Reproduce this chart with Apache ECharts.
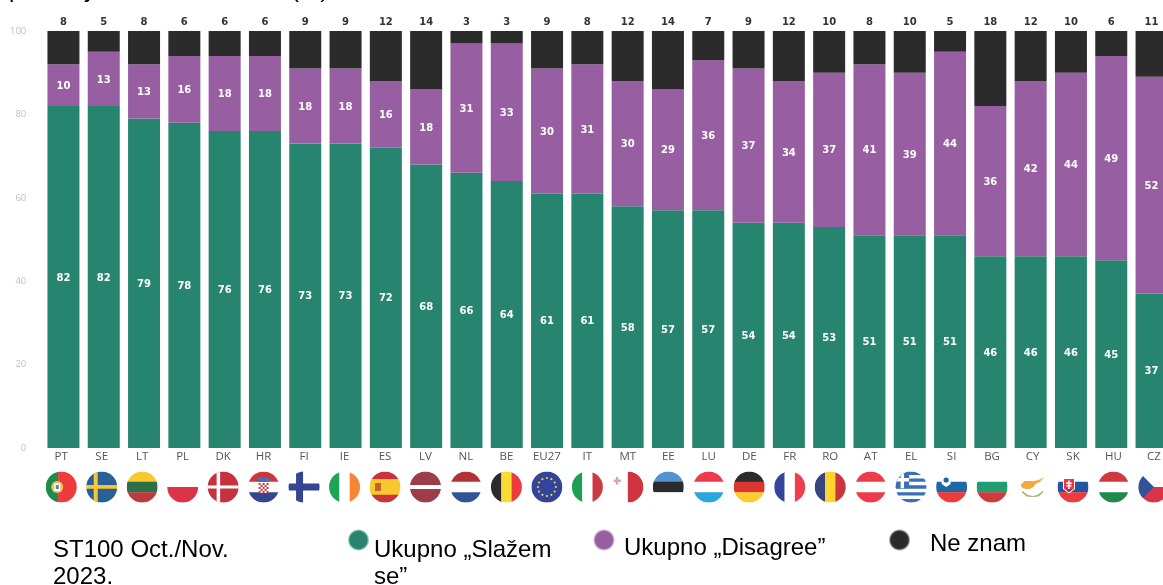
<!DOCTYPE html>
<html>
<head>
<meta charset="utf-8">
<style>
  html, body { margin: 0; padding: 0; background: #fff; }
  #main { width: 1163px; height: 585px; }
</style>
<script src="https://cdn.jsdelivr.net/npm/echarts@6/dist/echarts.min.js"></script>
</head>
<body>
<div id="main"></div>
<script>
const countries = ['PT','SE','LT','PL','DK','HR','FI','IE','ES','LV','NL','BE','EU27','IT','MT','EE','LU','DE','FR','RO','AT','EL','SI','BG','CY','SK','HU','CZ'];
const agree    = [82,82,79,78,76,76,73,73,72,68,66,64,61,61,58,57,57,54,54,53,51,51,51,46,46,46,45,37];
const disagree = [10,13,13,16,18,18,18,18,16,18,31,33,30,31,30,29,36,37,34,37,41,39,44,36,42,44,49,52];
const dontKnow = [8,5,8,6,6,6,9,9,12,14,3,3,9,8,12,14,7,9,12,10,8,10,5,18,12,10,6,11];

// stripes: h = top to bottom, v = left to right. [colour, weight]
const flags = {
  PT: ['v', [['#1f8a4c',2],['#ee3b3b',3]]],
  SE: ['h', [['#2a6099',4],['#f7c92e',1],['#2a6099',4]]],
  LT: ['h', [['#f7c92e',1],['#2b7048',1],['#bf3a3f',1]]],
  PL: ['h', [['#ffffff',1],['#dd3349',1]]],
  DK: ['h', [['#c8323f',1]]],
  HR: ['h', [['#d0343e',1],['#ffffff',1],['#33468f',1]]],
  FI: ['h', [['#ffffff',1]]],
  IE: ['v', [['#1fa354',1],['#ffffff',1],['#f58634',1]]],
  ES: ['h', [['#c9343a',1],['#f7c92e',2],['#c9343a',1]]],
  LV: ['h', [['#9e3d4a',5],['#ffffff',1.4],['#9e3d4a',5]]],
  NL: ['h', [['#b23237',1],['#ffffff',1],['#2f5596',1]]],
  BE: ['v', [['#2b2b2b',1],['#f7dc34',1],['#ee3b3f',1]]],
  EU27: ['h', [['#33459b',1]]],
  IT: ['v', [['#1f9e56',1],['#ffffff',1],['#cb3a42',1]]],
  MT: ['v', [['#ffffff',1],['#d0343e',1]]],
  EE: ['h', [['#5393d0',1],['#2b2b2b',1],['#ffffff',1]]],
  LU: ['h', [['#ee3b4b',1],['#ffffff',1],['#2ba5dc',1]]],
  DE: ['h', [['#2b2b2b',1],['#dd3333',1],['#fdcb2e',1]]],
  FR: ['v', [['#33459b',1],['#ffffff',1],['#ee3f4f',1]]],
  RO: ['v', [['#38437f',1],['#fdd32e',1],['#cb3540',1]]],
  AT: ['h', [['#ee3b4b',1],['#ffffff',1],['#ee3b4b',1]]],
  EL: ['h', [['#3a6fb5',1],['#ffffff',1],['#3a6fb5',1],['#ffffff',1],['#3a6fb5',1],['#ffffff',1],['#3a6fb5',1],['#ffffff',1],['#3a6fb5',1]]],
  SI: ['h', [['#ffffff',1],['#2166a5',1],['#ee3b3b',1]]],
  BG: ['h', [['#ffffff',1],['#1f9e72',1],['#cf3a3a',1]]],
  CY: ['h', [['#ffffff',1]]],
  SK: ['h', [['#ffffff',1],['#2455a4',1],['#ee3b3b',1]]],
  HU: ['h', [['#cf3a3f',1],['#ffffff',1],['#1f8a4c',1]]],
  CZ: ['h', [['#ffffff',1],['#dd3349',1]]]
};

const FLAG_R = 15.5;
const FLAG_OFFSET = 39;

function renderFlag(params, api) {
  const i = api.value(0);
  const code = countries[i];
  const pt = api.coord([i, 0]);
  const cx = pt[0];
  const cy = pt[1] + FLAG_OFFSET;
  const r = FLAG_R;
  const f = flags[code];
  const total = f[1].reduce((s, x) => s + x[1], 0);
  const children = [];
  let pos = -r;
  f[1].forEach(s => {
    const len = s[1] / total * 2 * r;
    const shape = f[0] === 'h'
      ? { x: cx - r, y: cy + pos, width: 2 * r, height: len + 0.3 }
      : { x: cx + pos, y: cy - r, width: len + 0.3, height: 2 * r };
    children.push({ type: 'rect', shape, style: { fill: s[0] } });
    pos += len;
  });
  const rect = (x, y, w, h, fill) => children.push({ type: 'rect', shape: { x: cx + x, y: cy + y, width: w, height: h }, style: { fill } });
  const dot = (x, y, rad, fill) => children.push({ type: 'circle', shape: { cx: cx + x, cy: cy + y, r: rad }, style: { fill } });
  const poly = (pts, fill) => children.push({ type: 'polygon', shape: { points: pts.map(p => [cx + p[0], cy + p[1]]) }, style: { fill } });

  if (code === 'SE') { rect(-8, -16, 4, 32, '#f7c92e'); }
  if (code === 'DK') { rect(-6.5, -16, 3.5, 32, '#fff'); rect(-16, -1.5, 32, 3, '#fff'); }
  if (code === 'FI') { rect(-8, -16, 7, 32, '#33468f'); rect(-16, -3.5, 32, 7, '#33468f'); }
  if (code === 'PT') { dot(-4, 0, 6, '#e6c65a'); rect(-7, -3.5, 6, 7.5, '#fff'); rect(-5.5, -2, 3, 4, '#5f7fb5'); }
  if (code === 'ES') { rect(-10, -4, 6, 8, '#c4622d'); }
  if (code === 'HR') {
    rect(-6, -9, 12, 4, '#4a6fb0');
    rect(-5, -5, 10, 11, '#fff');
    for (let a = 0; a < 5; a++) for (let b = 0; b < 5; b++) {
      if ((a + b) % 2 === 0) rect(-5 + a * 2, -4 + b * 2, 2, 2, '#d0343e');
    }
  }
  if (code === 'EU27') {
    for (let k = 0; k < 12; k++) {
      const a = k * Math.PI / 6;
      dot(Math.cos(a) * 9, Math.sin(a) * 9, 1.1, '#f7d23e');
    }
  }
  if (code === 'MT') { rect(-12, -10, 2.4, 7.5, '#d9a5ad'); rect(-14.5, -7.5, 7.5, 2.4, '#d9a5ad'); }
  if (code === 'EL') { rect(-16, -16, 14, 17.2, '#3a6fb5'); rect(-10.5, -16, 3.4, 17.2, '#fff'); rect(-16, -9, 14, 3.4, '#fff'); }
  if (code === 'SI') { poly([[-10,-12],[-1,-12],[-1,-3],[-5.5,0],[-10,-3]], '#fff'); dot(-5.5, -7, 2.6, '#2166a5'); }
  if (code === 'SK') {
    poly([[-10,-9],[2,-9],[2,2],[-4,6.5],[-10,2]], '#fff');
    poly([[-9,-8],[1,-8],[1,1.5],[-4,5.5],[-9,1.5]], '#e6383f');
    rect(-4.8, -6.5, 1.6, 9, '#fff'); rect(-7, -4.5, 6, 1.4, '#fff'); rect(-6.5, -2, 5, 1.4, '#fff');
    poly([[-7,2],[-1,2],[-4,5]], '#2455a4');
  }
  if (code === 'CZ') { poly([[-16,-16],[-16,16],[0,0]], '#2f5596'); }
  if (code === 'CY') {
    poly([[-12,-2],[-8,-6],[-3,-6],[1,-6],[6,-7],[12,-10],[7,-5],[3,-3],[1,0],[-3,2],[-7,2],[-10,1]], '#f3a93b');
    poly([[-10,4],[-5,8],[0,9],[0,10],[-6,9.5],[-11,5]], '#9fb07a');
    poly([[10,4],[5,8],[0,9],[0,10],[6,9.5],[11,5]], '#9fb07a');
  }
  return {
    type: 'group',
    clipPath: { type: 'circle', shape: { cx, cy, r } },
    children
  };
}

const legendItems = [
  { color: '#27856f', x: 358.5, y: 540, text: 'Ukupno „Slažem\nse”', tx: 374, ty: 537 },
  { color: '#975fa1', x: 604, y: 540, text: 'Ukupno „Disagree”', tx: 624, ty: 535 },
  { color: '#2b2b2b', x: 899.5, y: 540, text: 'Ne znam', tx: 930, ty: 531 }
];

const textFont = '24px "Liberation Sans"';
const graphic = [
  { type: 'text', left: 53, top: 537, style: { text: 'ST100 Oct./Nov.\n2023.', font: textFont, lineHeight: 27, fill: '#000' } },
  // title line is cut off by the top edge in the source image
  { type: 'text', left: 9, top: -22, style: { text: 'p', font: textFont, fill: '#000' } },
  { type: 'text', left: 84, top: -22, style: { text: 'y', font: textFont, fill: '#000' } },
  { type: 'text', left: 291, top: -22, style: { text: '(%)', font: textFont, fill: '#000' } }
];
legendItems.forEach(l => {
  graphic.push({
    type: 'circle',
    shape: { cx: l.x, cy: l.y, r: 11 },
    style: {
      fill: {
        type: 'radial', x: 0.5, y: 0.5, r: 0.5,
        colorStops: [
          { offset: 0, color: l.color },
          { offset: 0.78, color: l.color },
          { offset: 1, color: l.color + '00' }
        ]
      }
    }
  });
  graphic.push({ type: 'text', left: l.tx, top: l.ty, style: { text: l.text, font: textFont, lineHeight: 27, fill: '#000' } });
});

const whiteLabel = {
  show: true,
  position: 'inside',
  offset: [0, 1],
  color: '#fff',
  fontFamily: 'DejaVu Sans',
  fontWeight: 'bold',
  fontSize: 10
};

const myChart = echarts.init(document.getElementById('main'), null, { renderer: 'canvas' });

myChart.setOption({
  animation: false,
  backgroundColor: '#fff',
  // the labels and flags sit on a slightly wider spacing than the bars
  // the last column runs off the right edge, so the outer bounds are switched off
  grid: [
    { left: 43.3, top: 31, width: 1128.4, height: 417, outerBoundsMode: 'none' },
    { left: 41, top: 31, width: 1133.2, height: 417, outerBoundsMode: 'none' }
  ],
  xAxis: [
    {
      type: 'category',
      gridIndex: 0,
      data: countries,
      axisLine: { show: false },
      axisTick: { show: false },
      axisLabel: { show: false }
    },
    {
      type: 'category',
      gridIndex: 1,
      data: countries,
      axisLine: { show: false },
      axisTick: { show: false },
      axisLabel: { color: '#555', fontFamily: 'Open Sans', fontSize: 11.5, margin: 3, interval: 0 }
    }
  ],
  yAxis: [
    {
      type: 'value',
      gridIndex: 0,
      min: 0,
      max: 100,
      interval: 20,
      splitLine: { show: false },
      axisLine: { show: false },
      axisTick: { show: false },
      axisLabel: { color: '#c9bdb5', fontFamily: 'Open Sans', fontSize: 9.5, margin: 17 }
    },
    {
      type: 'value',
      gridIndex: 1,
      min: 0,
      max: 100,
      show: false
    }
  ],
  graphic,
  series: [
    {
      name: 'Ukupno „Slažem se”', type: 'bar', stack: 'a', barWidth: 32,
      data: agree, itemStyle: { color: '#27856f' }, label: whiteLabel
    },
    {
      name: 'Ukupno „Disagree”', type: 'bar', stack: 'a', barWidth: 32,
      data: disagree, itemStyle: { color: '#975fa1' }, label: whiteLabel
    },
    {
      name: 'Ne znam', type: 'bar', stack: 'a', barWidth: 32,
      data: dontKnow, itemStyle: { color: '#2b2b2b' },
      label: { show: true, position: 'top', distance: 4, color: '#333', fontFamily: 'DejaVu Sans', fontWeight: 'bold', fontSize: 10 }
    },
    {
      type: 'custom',
      xAxisIndex: 1,
      yAxisIndex: 1,
      renderItem: renderFlag,
      data: countries.map((c, i) => [i, 0]),
      encode: { x: 0, y: 1 },
      clip: false,
      silent: true,
      z: 5
    }
  ]
});
</script>
</body>
</html>
